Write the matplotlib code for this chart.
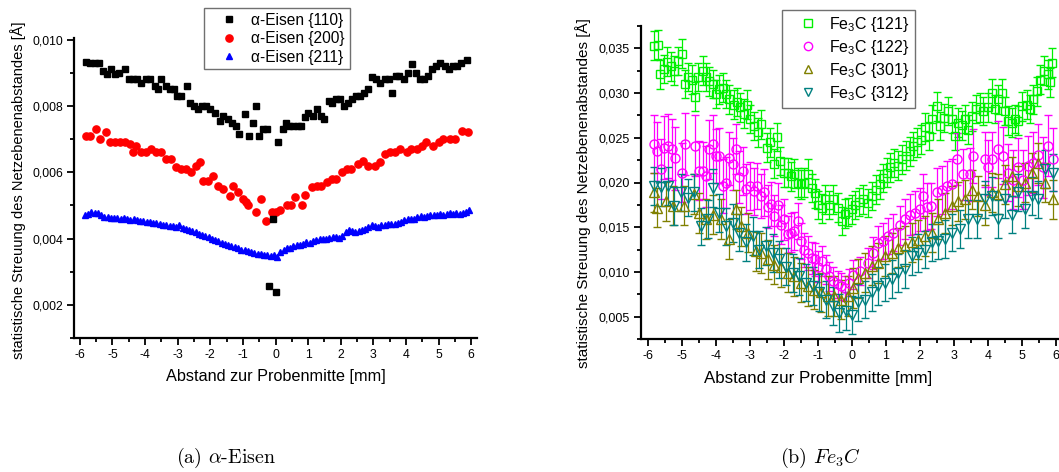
import matplotlib
matplotlib.use("Agg")
import matplotlib.pyplot as plt
from matplotlib.ticker import MultipleLocator, FuncFormatter
from matplotlib.font_manager import FontProperties
from matplotlib.lines import Line2D

plt.rcParams['font.family'] = ['Liberation Sans', 'DejaVu Sans']
plt.rcParams['mathtext.fontset'] = 'custom'
plt.rcParams['mathtext.rm'] = 'Liberation Sans'
plt.rcParams['mathtext.it'] = 'Liberation Sans:italic'

# ---------------- data: alpha-Eisen ----------------
fe110_x = [-5.82, -5.69, -5.54, -5.41, -5.29, -5.18, -5.03, -4.93, -4.80, -4.63,
           -4.50, -4.37, -4.25, -4.12, -3.97, -3.84, -3.71, -3.61, -3.50, -3.37,
           -3.25, -3.12, -3.02, -2.89, -2.72, -2.61, -2.51, -2.37, -2.24, -2.12,
           -2.00, -1.86, -1.71, -1.61, -1.46, -1.32, -1.20, -1.12, -0.94, -0.81,
           -0.68, -0.60, -0.50, -0.38, -0.27, -0.19, -0.09, 0.00, 0.08, 0.22,
           0.32, 0.42, 0.54, 0.69, 0.79, 0.89, 0.99, 1.15, 1.27, 1.40,
           1.50, 1.64, 1.74, 1.86, 1.98, 2.09, 2.22, 2.35, 2.48, 2.60,
           2.70, 2.84, 2.97, 3.09, 3.22, 3.35, 3.48, 3.58, 3.70, 3.80,
           3.93, 4.06, 4.20, 4.30, 4.42, 4.55, 4.68, 4.81, 4.93, 5.05,
           5.19, 5.32, 5.44, 5.57, 5.70, 5.86]
fe110_y = [0.00932, 0.00930, 0.00930, 0.00930, 0.00905, 0.00895, 0.00910, 0.00895, 0.00900, 0.00910,
           0.00880, 0.00880, 0.00880, 0.00870, 0.00880, 0.00880, 0.00860, 0.00850, 0.00880, 0.00860,
           0.00850, 0.00850, 0.00830, 0.00830, 0.00860, 0.00810, 0.00800, 0.00790, 0.00800, 0.00800,
           0.00790, 0.00780, 0.00755, 0.00770, 0.00760, 0.00750, 0.00740, 0.00715, 0.00775, 0.00710,
           0.00750, 0.00800, 0.00710, 0.00730, 0.00730, 0.00256, 0.00458, 0.00239, 0.00690, 0.00730,
           0.00750, 0.00740, 0.00740, 0.00740, 0.00740, 0.00768, 0.00780, 0.00770, 0.00790, 0.00770,
           0.00760, 0.00815, 0.00810, 0.00820, 0.00820, 0.00800, 0.00810, 0.00820, 0.00830, 0.00830,
           0.00840, 0.00850, 0.00886, 0.00880, 0.00870, 0.00880, 0.00880, 0.00840, 0.00890, 0.00890,
           0.00880, 0.00900, 0.00928, 0.00900, 0.00880, 0.00880, 0.00890, 0.00910, 0.00920, 0.00930,
           0.00920, 0.00910, 0.00920, 0.00920, 0.00930, 0.00940]

fe200_x = [-5.82, -5.69, -5.51, -5.39, -5.21, -5.08, -4.93, -4.77, -4.62, -4.47,
           -4.37, -4.27, -4.12, -3.97, -3.82, -3.66, -3.51, -3.35, -3.20, -3.05,
           -2.89, -2.74, -2.59, -2.44, -2.33, -2.23, -2.07, -1.92, -1.77, -1.61,
           -1.41, -1.30, -1.15, -1.00, -0.89, -0.84, -0.59, -0.45, -0.30, -0.12,
           0.02, 0.13, 0.34, 0.48, 0.60, 0.80, 0.90, 1.11, 1.26, 1.41,
           1.57, 1.72, 1.87, 2.03, 2.18, 2.33, 2.54, 2.69, 2.84, 3.05,
           3.20, 3.36, 3.51, 3.66, 3.82, 4.02, 4.17, 4.33, 4.48, 4.63,
           4.84, 5.00, 5.14, 5.35, 5.50, 5.71, 5.91]
fe200_y = [0.00710, 0.00710, 0.00730, 0.00700, 0.00720, 0.00692, 0.00690, 0.00690, 0.00690, 0.00685,
           0.00662, 0.00680, 0.00660, 0.00660, 0.00670, 0.00660, 0.00660, 0.00640, 0.00640, 0.00616,
           0.00610, 0.00610, 0.00600, 0.00620, 0.00630, 0.00575, 0.00575, 0.00590, 0.00560, 0.00550,
           0.00529, 0.00560, 0.00540, 0.00520, 0.00510, 0.00500, 0.00480, 0.00520, 0.00452, 0.00480,
           0.00480, 0.00485, 0.00500, 0.00500, 0.00525, 0.00500, 0.00530, 0.00555, 0.00560, 0.00560,
           0.00570, 0.00580, 0.00580, 0.00600, 0.00610, 0.00610, 0.00625, 0.00635, 0.00620, 0.00620,
           0.00630, 0.00655, 0.00660, 0.00660, 0.00670, 0.00660, 0.00670, 0.00670, 0.00680, 0.00690,
           0.00680, 0.00690, 0.00700, 0.00700, 0.00700, 0.00725, 0.00720]

fe211_x = [-5.85, -5.75, -5.65, -5.55, -5.45, -5.35, -5.25, -5.15, -5.05, -4.95,
           -4.85, -4.75, -4.65, -4.55, -4.45, -4.35, -4.25, -4.15, -4.05, -3.95,
           -3.85, -3.75, -3.65, -3.55, -3.45, -3.35, -3.25, -3.15, -3.05, -2.95,
           -2.85, -2.75, -2.65, -2.55, -2.45, -2.35, -2.25, -2.15, -2.05, -1.95,
           -1.85, -1.75, -1.65, -1.55, -1.45, -1.35, -1.25, -1.15, -1.05, -0.95,
           -0.85, -0.75, -0.65, -0.55, -0.45, -0.35, -0.25, -0.15, -0.05, 0.05,
           0.15, 0.25, 0.35, 0.45, 0.55, 0.65, 0.75, 0.85, 0.95, 1.05,
           1.15, 1.25, 1.35, 1.45, 1.55, 1.65, 1.75, 1.85, 1.95, 2.05,
           2.15, 2.25, 2.35, 2.45, 2.55, 2.65, 2.75, 2.85, 2.95, 3.05,
           3.15, 3.25, 3.35, 3.45, 3.55, 3.65, 3.75, 3.85, 3.95, 4.05,
           4.15, 4.25, 4.35, 4.45, 4.55, 4.65, 4.75, 4.85, 4.95, 5.05,
           5.15, 5.25, 5.35, 5.45, 5.55, 5.65, 5.75, 5.85, 5.92]
fe211_y = [0.00470, 0.00475, 0.00480, 0.00478, 0.00476, 0.00470, 0.00466, 0.00465, 0.00462, 0.00463,
           0.00461, 0.00460, 0.00462, 0.00458, 0.00457, 0.00458, 0.00455, 0.00454, 0.00452, 0.00451,
           0.00450, 0.00447, 0.00446, 0.00443, 0.00442, 0.00440, 0.00438, 0.00437, 0.00436, 0.00440,
           0.00433, 0.00430, 0.00427, 0.00422, 0.00419, 0.00415, 0.00410, 0.00407, 0.00404, 0.00398,
           0.00395, 0.00393, 0.00388, 0.00384, 0.00381, 0.00378, 0.00374, 0.00370, 0.00366, 0.00364,
           0.00362, 0.00360, 0.00357, 0.00354, 0.00352, 0.00350, 0.00349, 0.00348, 0.00350, 0.00345,
           0.00358, 0.00365, 0.00370, 0.00372, 0.00378, 0.00380, 0.00382, 0.00385, 0.00390, 0.00388,
           0.00392, 0.00395, 0.00398, 0.00400, 0.00398, 0.00402, 0.00404, 0.00405, 0.00403, 0.00408,
           0.00420, 0.00425, 0.00422, 0.00420, 0.00424, 0.00425, 0.00430, 0.00435, 0.00442, 0.00438,
           0.00436, 0.00440, 0.00442, 0.00445, 0.00443, 0.00444, 0.00446, 0.00450, 0.00455, 0.00458,
           0.00458, 0.00460, 0.00466, 0.00468, 0.00466, 0.00468, 0.00470, 0.00472, 0.00470, 0.00474,
           0.00472, 0.00475, 0.00476, 0.00474, 0.00477, 0.00475, 0.00478, 0.00480, 0.00485]

# ---------------- data: Fe3C ----------------
c121_x = [-5.81, -5.70, -5.64, -5.54, -5.44, -5.32, -5.23, -5.13, -5.01, -4.91,
          -4.81, -4.71, -4.62, -4.52, -4.39, -4.29, -4.20, -4.10, -4.00, -3.90,
          -3.80, -3.71, -3.61, -3.48, -3.38, -3.28, -3.19, -3.09, -2.99, -2.89,
          -2.77, -2.68, -2.50, -2.40, -2.30, -2.21, -2.11, -1.99, -1.89, -1.79,
          -1.70, -1.60, -1.50, -1.40, -1.30, -1.19, -1.09, -0.99, -0.89, -0.79,
          -0.67, -0.57, -0.42, -0.30, -0.21, -0.11, -0.01, 0.09, 0.21, 0.33,
          0.46, 0.58, 0.70, 0.82, 0.92, 1.02, 1.12, 1.24, 1.36, 1.46,
          1.58, 1.71, 1.80, 1.90, 2.03, 2.15, 2.26, 2.36, 2.49, 2.59,
          2.71, 2.83, 2.93, 3.03, 3.13, 3.23, 3.32, 3.42, 3.52, 3.64,
          3.76, 3.86, 3.99, 4.11, 4.21, 4.30, 4.40, 4.50, 4.60, 4.70,
          4.79, 4.89, 5.01, 5.14, 5.24, 5.33, 5.43, 5.53, 5.65, 5.77,
          5.82, 5.89]
c121_y = [0.0353, 0.0354, 0.0321, 0.0327, 0.0335, 0.0330, 0.0325, 0.0336, 0.0344, 0.0310,
          0.0318, 0.0315, 0.0296, 0.0318, 0.0325, 0.0318, 0.0313, 0.0310, 0.0299, 0.0304,
          0.0306, 0.0299, 0.0293, 0.0287, 0.0290, 0.0284, 0.0277, 0.0287, 0.0271, 0.0263,
          0.0256, 0.0265, 0.0239, 0.0245, 0.0221, 0.0251, 0.0224, 0.0211, 0.0211, 0.0207,
          0.0210, 0.0200, 0.0198, 0.0200, 0.0210, 0.0194, 0.0188, 0.0175, 0.0171, 0.0181,
          0.0175, 0.0181, 0.0172, 0.0157, 0.0165, 0.0167, 0.0170, 0.0175, 0.0178, 0.0181,
          0.0177, 0.0185, 0.0192, 0.0198, 0.0205, 0.0211, 0.0217, 0.0222, 0.0219, 0.0226,
          0.0230, 0.0235, 0.0241, 0.0245, 0.0248, 0.0262, 0.0252, 0.0271, 0.0285, 0.0263,
          0.0272, 0.0280, 0.0271, 0.0252, 0.0267, 0.0264, 0.0271, 0.0259, 0.0274, 0.0282,
          0.0284, 0.0280, 0.0284, 0.0300, 0.0282, 0.0293, 0.0300, 0.0280, 0.0269, 0.0267,
          0.0271, 0.0269, 0.0285, 0.0287, 0.0282, 0.0293, 0.0302, 0.0315, 0.0325, 0.0321,
          0.0312, 0.0334]
c121_err = 0.0016

c122_x = [-5.81, -5.74, -5.62, -5.52, -5.42, -5.30, -5.21, -5.01, -4.91, -4.62,
          -4.49, -4.39, -4.29, -4.20, -4.10, -4.00, -3.90, -3.80, -3.71, -3.61,
          -3.51, -3.41, -3.31, -3.21, -3.12, -2.99, -2.89, -2.79, -2.68, -2.58,
          -2.48, -2.38, -2.29, -2.19, -2.09, -1.99, -1.89, -1.79, -1.70, -1.60,
          -1.50, -1.40, -1.30, -1.19, -1.09, -0.99, -0.89, -0.76, -0.67, -0.57,
          -0.42, -0.32, -0.21, -0.08, 0.04, 0.24, 0.48, 0.63, 0.77, 0.92,
          1.07, 1.21, 1.41, 1.56, 1.71, 1.85, 2.00, 2.10, 2.20, 2.32,
          2.49, 2.64, 2.79, 2.93, 3.08, 3.27, 3.47, 3.57, 3.91, 4.01,
          4.11, 4.30, 4.45, 4.60, 4.74, 4.89, 5.04, 5.19, 5.33, 5.48,
          5.63, 5.77, 5.92]
c122_y = [0.0243, 0.0235, 0.0215, 0.0239, 0.0241, 0.0237, 0.0227, 0.0211, 0.0243, 0.0241,
          0.0213, 0.0213, 0.0207, 0.0237, 0.0243, 0.0230, 0.0230, 0.0196, 0.0200, 0.0227,
          0.0221, 0.0237, 0.0206, 0.0213, 0.0193, 0.0196, 0.0190, 0.0196, 0.0185, 0.0189,
          0.0173, 0.0176, 0.0163, 0.0175, 0.0153, 0.0159, 0.0142, 0.0144, 0.0146, 0.0157,
          0.0135, 0.0125, 0.0121, 0.0116, 0.0114, 0.0106, 0.0112, 0.0103, 0.0095, 0.0090,
          0.0086, 0.0084, 0.0082, 0.0088, 0.0097, 0.0101, 0.0110, 0.0121, 0.0132, 0.0135,
          0.0140, 0.0144, 0.0152, 0.0159, 0.0164, 0.0166, 0.0170, 0.0185, 0.0173, 0.0174,
          0.0189, 0.0192, 0.0196, 0.0198, 0.0226, 0.0209, 0.0209, 0.0230, 0.0226, 0.0217,
          0.0226, 0.0237, 0.0230, 0.0211, 0.0203, 0.0217, 0.0203, 0.0219, 0.0222, 0.0231,
          0.0217, 0.0241, 0.0226]
c122_err = [0.0032, 0.0033, 0.0034, 0.0035, 0.0036, 0.0034, 0.0035, 0.0033, 0.0035, 0.0034,
            0.0033, 0.0032, 0.0034, 0.0033, 0.0032, 0.0030, 0.0031, 0.0030, 0.0029, 0.0030,
            0.0029, 0.0028, 0.0029, 0.0027, 0.0028, 0.0027, 0.0026, 0.0026, 0.0025, 0.0026,
            0.0024, 0.0025, 0.0023, 0.0024, 0.0022, 0.0023, 0.0021, 0.0022, 0.0021, 0.0020,
            0.0020, 0.0019, 0.0019, 0.0018, 0.0018, 0.0017, 0.0017, 0.0016, 0.0016, 0.0015,
            0.0015, 0.0015, 0.0014, 0.0015, 0.0016, 0.0016, 0.0017, 0.0018, 0.0019, 0.0020,
            0.0020, 0.0021, 0.0022, 0.0022, 0.0023, 0.0024, 0.0024, 0.0025, 0.0026, 0.0026,
            0.0027, 0.0027, 0.0028, 0.0028, 0.0029, 0.0029, 0.0030, 0.0030, 0.0031, 0.0031,
            0.0031, 0.0032, 0.0032, 0.0032, 0.0033, 0.0033, 0.0033, 0.0033, 0.0034, 0.0034,
            0.0034, 0.0034, 0.0035]

c301_x = [-5.81, -5.74, -5.47, -5.27, -4.93, -4.64, -4.49, -4.29, -4.10, -3.85,
          -3.61, -3.41, -3.26, -3.07, -2.82, -2.68, -2.48, -2.29, -2.09, -1.89,
          -1.70, -1.50, -1.30, -1.11, -0.91, -0.71, -0.52, -0.32, -0.13, 0.04,
          0.19, 0.38, 0.58, 0.77, 0.97, 1.17, 1.36, 1.56, 1.76, 1.95,
          2.15, 2.34, 2.54, 2.74, 2.93, 3.13, 3.32, 3.52, 3.72, 3.91,
          4.11, 4.30, 4.50, 4.70, 4.89, 5.09, 5.29, 5.48, 5.68, 5.92]
c301_y = [0.0189, 0.0172, 0.0179, 0.0174, 0.0174, 0.0187, 0.0166, 0.0159, 0.0164, 0.0159,
          0.0137, 0.0170, 0.0151, 0.0144, 0.0123, 0.0121, 0.0114, 0.0108, 0.0105, 0.0099,
          0.0095, 0.0088, 0.0084, 0.0080, 0.0077, 0.0073, 0.0073, 0.0069, 0.0073, 0.0082,
          0.0093, 0.0099, 0.0107, 0.0110, 0.0118, 0.0121, 0.0127, 0.0129, 0.0133, 0.0136,
          0.0140, 0.0144, 0.0159, 0.0166, 0.0174, 0.0179, 0.0181, 0.0192, 0.0185, 0.0175,
          0.0189, 0.0187, 0.0198, 0.0207, 0.0196, 0.0200, 0.0211, 0.0222, 0.0200, 0.0181]
c301_err = 0.0022

c312_x = [-5.81, -5.62, -5.42, -5.23, -5.03, -4.83, -4.64, -4.44, -4.24, -4.10,
          -3.90, -3.71, -3.51, -3.31, -3.12, -2.92, -2.73, -2.53, -2.33, -2.14,
          -1.94, -1.74, -1.55, -1.35, -1.16, -0.96, -0.76, -0.57, -0.37, -0.18,
          -0.01, 0.19, 0.38, 0.58, 0.77, 0.97, 1.17, 1.36, 1.56, 1.76,
          1.95, 2.15, 2.34, 2.54, 2.74, 2.93, 3.18, 3.42, 3.67, 3.91,
          4.11, 4.30, 4.50, 4.70, 4.89, 5.09, 5.29, 5.48, 5.68, 5.92]
c312_y = [0.0196, 0.0195, 0.0196, 0.0174, 0.0189, 0.0183, 0.0189, 0.0151, 0.0159, 0.0194,
          0.0166, 0.0151, 0.0155, 0.0144, 0.0133, 0.0140, 0.0125, 0.0129, 0.0121, 0.0114,
          0.0106, 0.0099, 0.0095, 0.0088, 0.0084, 0.0077, 0.0069, 0.0062, 0.0054, 0.0056,
          0.0052, 0.0066, 0.0069, 0.0077, 0.0084, 0.0088, 0.0092, 0.0099, 0.0103, 0.0118,
          0.0121, 0.0125, 0.0133, 0.0135, 0.0137, 0.0144, 0.0148, 0.0159, 0.0159, 0.0181,
          0.0185, 0.0159, 0.0181, 0.0164, 0.0189, 0.0170, 0.0185, 0.0181, 0.0215, 0.0211]
c312_err = 0.0021

xticks = [-6, -5, -4, -3, -2, -1, 0, 1, 2, 3, 4, 5, 6]
xlabel_text = "Abstand zur Probenmitte [mm]"
ylabel_text = "statistische Streuung des Netzebenenabstandes [Å]"

W, H = 1059, 472
fig = plt.figure(figsize=(W / 100, H / 100), dpi=100)
ax1 = fig.add_axes([74 / W, 1 - 338 / H, 403 / W, 300 / H])
ax2 = fig.add_axes([641 / W, 1 - 339 / H, 422 / W, 313 / H])

comma = FuncFormatter(lambda v, p: f"{v:.3f}".replace('.', ','))
intfmt = FuncFormatter(lambda v, p: f"{int(round(v))}")


def style(ax, tsize):
    for s in ['top', 'right']:
        ax.spines[s].set_visible(False)
    for s in ['left', 'bottom']:
        ax.spines[s].set_linewidth(1.6)
    ax.tick_params(which='major', direction='out', length=5, width=1.3,
                   labelsize=tsize, pad=3, colors='black')
    ax.tick_params(which='minor', direction='out', length=3, width=1.3)
    ax.set_xticks(xticks)
    ax.xaxis.set_minor_locator(MultipleLocator(0.5))
    ax.xaxis.set_major_formatter(intfmt)
    ax.yaxis.set_major_formatter(comma)


GREEN = '#00f000'

# ---------- left panel ----------
ax1.plot(fe110_x, fe110_y, ls='none', marker='s', ms=4.6, color='black', mec='black', zorder=3)
ax1.plot(fe200_x, fe200_y, ls='none', marker='o', ms=5.2, color='#ff0000', mec='#ff0000', zorder=2)
ax1.plot(fe211_x, fe211_y, ls='none', marker='^', ms=4.8, color='#0000ff', mec='#0000ff', zorder=2)
ax1.set_xlim(-6.18, 6.18)
ax1.set_ylim(0.001, 0.01005)
ax1.yaxis.set_major_locator(MultipleLocator(0.002))
ax1.yaxis.set_minor_locator(MultipleLocator(0.001))
style(ax1, 8.8)
ax1.set_xlabel(xlabel_text, fontsize=11.7, va='center')
ax1.xaxis.set_label_coords(0.5, (338 - 376) / 300)
ax1.set_ylabel(ylabel_text, fontsize=10.5, va='center')
ax1.yaxis.set_label_coords((18 - 74) / 403, (338 - 190) / 300)

h1 = [Line2D([], [], ls='none', marker='s', ms=4.6, color='black'),
      Line2D([], [], ls='none', marker='o', ms=5.2, color='#ff0000'),
      Line2D([], [], ls='none', marker='^', ms=4.8, color='#0000ff')]
l1 = ["α-Eisen {110}", "α-Eisen {200}", "α-Eisen {211}"]
fp1 = FontProperties(family=['Liberation Sans', 'DejaVu Sans'], size=11.2)
leg1 = fig.legend(h1, l1, loc='upper left', bbox_to_anchor=(204 / W, 1 - 8 / H),
                  prop=fp1, frameon=True, fancybox=False, framealpha=1, edgecolor='#707070',
                  borderpad=0.3, labelspacing=0.23, handlelength=2.6, handletextpad=0.15,
                  borderaxespad=0)
leg1.get_frame().set_linewidth(1.0)

# ---------- right panel ----------
ekw = dict(ls='none', markerfacecolor='none', mew=1.0, elinewidth=0.9, capsize=2.6, capthick=0.9)
ax2.errorbar(c121_x, c121_y, yerr=c121_err, marker='s', ms=6, color=GREEN, **ekw)
ax2.errorbar(c122_x, c122_y, yerr=c122_err, marker='o', ms=6.5, color='#ff00ff', **ekw)
ax2.errorbar(c301_x, c301_y, yerr=c301_err, marker='^', ms=6.5, color='#808000', **ekw)
ax2.errorbar(c312_x, c312_y, yerr=c312_err, marker='v', ms=6.5, color='#008080', **ekw)
ax2.set_xlim(-6.206, 6.206)
ax2.set_ylim(0.0025, 0.0375)
ax2.yaxis.set_major_locator(MultipleLocator(0.005))
ax2.yaxis.set_minor_locator(MultipleLocator(0.0025))
style(ax2, 9)
ax2.set_xlabel(xlabel_text, fontsize=12.2, va='center')
ax2.xaxis.set_label_coords((818 - 641) / 422, (339 - 378) / 313)
ax2.set_ylabel(ylabel_text, fontsize=11, va='center')
ax2.yaxis.set_label_coords((583 - 641) / 422, (339 - 193) / 313)

h2 = [Line2D([], [], ls='none', marker='s', ms=5.5, mfc='none', mew=1.0, color=GREEN),
      Line2D([], [], ls='none', marker='o', ms=6, mfc='none', mew=1.0, color='#ff00ff'),
      Line2D([], [], ls='none', marker='^', ms=6, mfc='none', mew=1.0, color='#808000'),
      Line2D([], [], ls='none', marker='v', ms=6, mfc='none', mew=1.0, color='#008080')]
l2 = [r"Fe$_3$C {121}", r"Fe$_3$C {122}", r"Fe$_3$C {301}", r"Fe$_3$C {312}"]
fp2 = FontProperties(family=['Liberation Sans', 'DejaVu Sans'], size=11.5, math_fontfamily='custom')
leg2 = fig.legend(h2, l2, loc='upper left', bbox_to_anchor=(782 / W, 1 - 10 / H),
                  prop=fp2, frameon=True, fancybox=False, framealpha=1, edgecolor='#707070',
                  borderpad=0.3, labelspacing=0.25, handlelength=2.6, handletextpad=0.05,
                  borderaxespad=0)
leg2.get_frame().set_linewidth(1.0)

# ---------- captions ----------
fig.text(226 / W, 1 - 458 / H, r"(a) $\alpha$-Eisen", family='cmr10', math_fontfamily='cm',
         fontsize=14.4, ha='center', va='center')
fig.text(820 / W, 1 - 458 / H, r"(b) $Fe_3C$", family='cmr10', math_fontfamily='cm',
         fontsize=14.4, ha='center', va='center')

fig.savefig("out.png", dpi=100)
